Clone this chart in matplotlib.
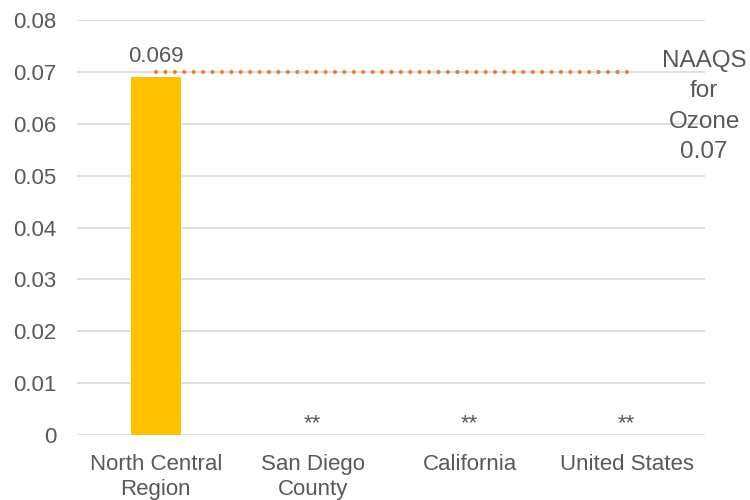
import matplotlib
matplotlib.use("Agg")
import matplotlib.pyplot as plt
import numpy as np

categories = ["North Central\nRegion", "San Diego\nCounty", "California", "United States"]
values = [0.069, 0, 0, 0]
bar_labels = ["0.069", "**", "**", "**"]
standard = 0.07
standard_label = "NAAQS\nfor\nOzone\n0.07"
yticks = [0, 0.01, 0.02, 0.03, 0.04, 0.05, 0.06, 0.07, 0.08]

plt.rcParams['font.family'] = ['Liberation Sans', 'DejaVu Sans']
txt = '#595959'

fig = plt.figure(figsize=(7.5, 5), dpi=100)
ax = fig.add_axes([0.103, 0.13, 0.837, 0.83])
x = np.arange(len(categories))
ax.bar(x, values, width=0.32, color='#FFC000', zorder=2)
ax.plot(x, [standard]*len(x), color='#ED7D31', linewidth=3.0,
        linestyle=(0, (0.01, 2.25)), dash_capstyle='round', zorder=3)

for xi, v, lab in zip(x, values, bar_labels):
    off = 0.0029 if v > 0 else 0.0011
    ax.text(xi, v + off, lab, ha='center', va='baseline', fontsize=16, color=txt)

ax.text(3.495, 0.0633, standard_label, ha='center', va='center', fontsize=17.5,
        color=txt, linespacing=1.49, clip_on=False)

ax.set_xlim(-0.5, 3.5)
ax.set_ylim(0, 0.08)
ax.set_yticks(yticks)
ax.set_yticklabels(["0" if t == 0 else f"{t:.2f}" for t in yticks])
ax.set_xticks(x)
ax.set_xticklabels(categories, linespacing=1.25)
ax.tick_params(axis='both', length=0, labelsize=16, labelcolor=txt)
ax.tick_params(axis='y', pad=15)
ax.tick_params(axis='x', pad=13.5)
ax.grid(axis='y', color='#D9D9D9', linewidth=1.2, zorder=0)
ax.set_axisbelow(True)
for s in ax.spines.values():
    s.set_visible(False)

fig.savefig("out.png", dpi=100)
